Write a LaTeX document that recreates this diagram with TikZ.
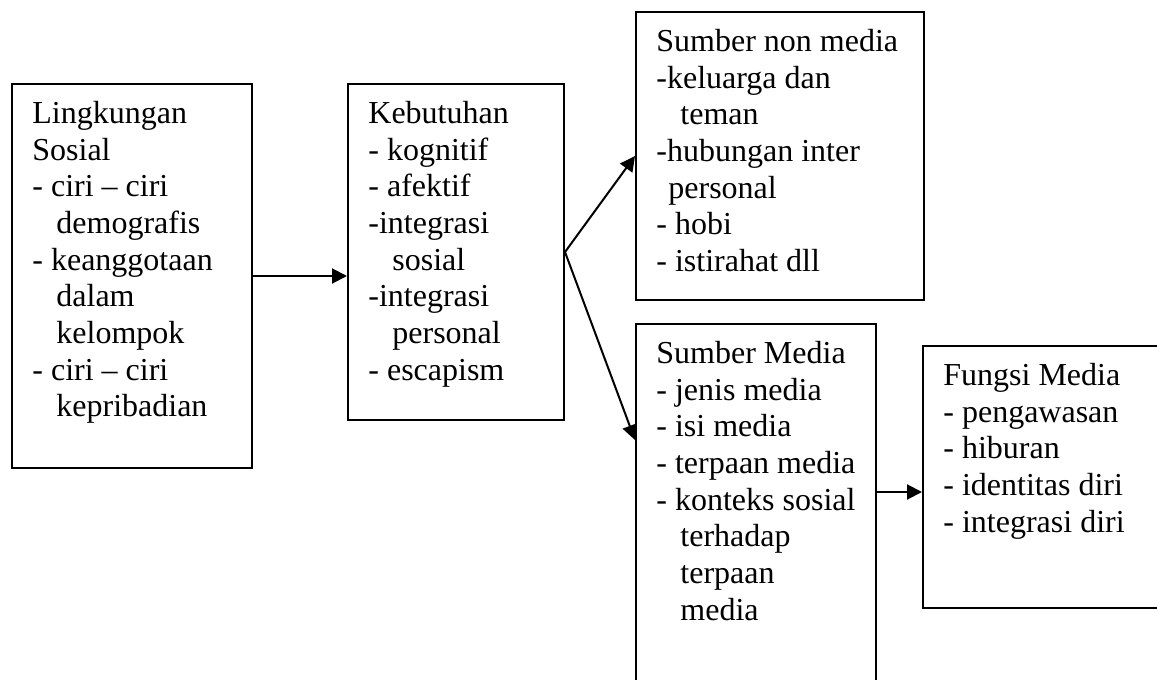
\documentclass[tikz,border=0pt]{standalone}
\usepackage{fontspec}
\setmainfont{Liberation Serif}
\usepackage{tikz}
\usetikzlibrary{arrows.meta}

\newcommand{\ind}[1][12pt]{\hspace*{#1}}

\tikzset{
  box/.style={draw, line width=1pt, anchor=north west, inner sep=0pt},
  boxtext/.style={anchor=north west, inner sep=0pt, align=left,
    font=\fontsize{16}{18.35}\selectfont},
  arr/.style={line width=1pt, -{Triangle[length=7.5pt,width=7.5pt]}}
}

\begin{document}
\begin{tikzpicture}[x=0.5pt, y=-0.5pt]
  \useasboundingbox (0,0) rectangle (1157,680);

  \node[box, minimum width=120pt, minimum height=192pt] (lingk) at (11,83) {};
  \node[box, minimum width=108pt, minimum height=168pt] (kebut) at (347,83) {};
  \node[box, minimum width=144pt, minimum height=144pt] (nonmedia) at (635,11) {};
  \node[box, minimum width=120pt, minimum height=188.5pt] (media) at (635,323) {};
  \node[box, minimum width=121.5pt, minimum height=131pt] (fungsi) at (922,345) {};

  \node[boxtext] (lingk-txt) at ([xshift=10.5pt, yshift=-7.15pt]lingk.north west)
    {\strut Lingkungan\\ Sosial\\ - ciri – ciri\\ \ind demografis\\ - keanggotaan\\
     \ind dalam\\ \ind kelompok\\ - ciri – ciri\\ \ind kepribadian};
  \node[boxtext] (kebut-txt) at ([xshift=10.5pt, yshift=-7.15pt]kebut.north west)
    {\strut Kebutuhan\\ - kognitif\\ - afektif\\ -integrasi\\ \ind sosial\\
     -integrasi\\ \ind personal\\ - escapism};
  \node[boxtext] (nonmedia-txt) at ([xshift=10.5pt, yshift=-7.15pt]nonmedia.north west)
    {\strut Sumber non media\\ -keluarga dan\\ \ind teman\\ -hubungan inter\\
     \ind[6pt]personal\\ - hobi\\ - istirahat dll};
  \node[boxtext] (media-txt) at ([xshift=10.5pt, yshift=-7.15pt]media.north west)
    {\strut Sumber Media\\ - jenis media\\ - isi media\\ - terpaan media\\
     - konteks sosial\\ \ind terhadap\\ \ind terpaan\\ \ind media};
  \node[boxtext] (fungsi-txt) at ([xshift=10.5pt, yshift=-7.15pt]fungsi.north west)
    {\strut Fungsi Media\\ - pengawasan\\ - hiburan\\ - identitas diri\\ - integrasi diri};

  \draw[arr] (lingk.east) -- (lingk.east -| kebut.west);
  \draw[arr] (kebut.east) -- (nonmedia.west);
  \draw[arr] (kebut.east) -- ([yshift=-58.5pt]media.north west);
  \draw[arr] ([yshift=-7.5pt]fungsi.west -| media.east) -- ([yshift=-7.5pt]fungsi.west);
\end{tikzpicture}
\end{document}
